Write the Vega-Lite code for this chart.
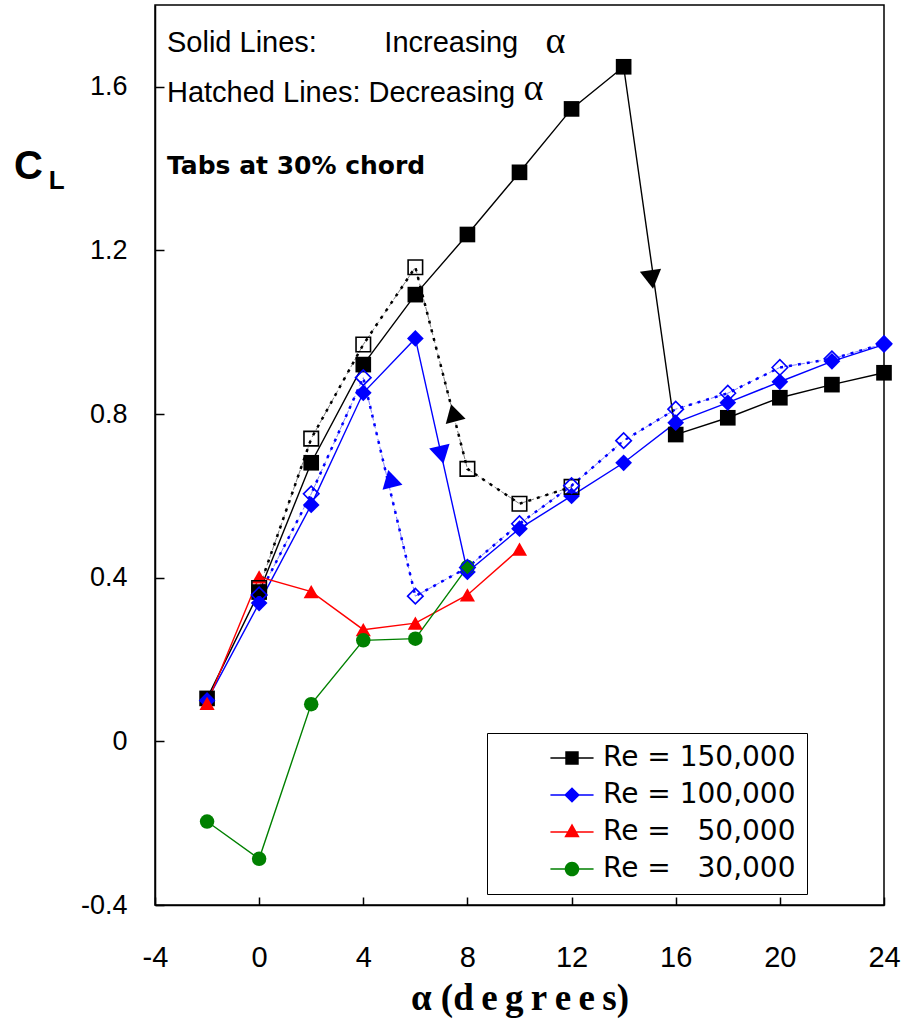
{
  "$schema": "https://vega.github.io/schema/vega-lite/v6.json",
  "width": 729,
  "height": 900,
  "autosize": {"type": "none"},
  "padding": {"left": 155, "top": 5, "right": 20, "bottom": 121},
  "background": "white",
  "config": {
    "view": {"stroke": "black", "strokeWidth": 1.5},
    "axis": {
      "grid": false,
      "domainColor": "black",
      "domainWidth": 1.5,
      "tickColor": "black",
      "tickWidth": 1.5,
      "labelColor": "black",
      "titleColor": "black",
      "labelFont": "Liberation Sans",
      "labelFlush": false,
      "labelOverlap": false,
      "labelBound": false
    }
  },
  "datasets": {
    "cl": [
      {"re": "150,000", "sweep": "increasing", "alpha": -2, "cl": 0.105},
      {"re": "150,000", "sweep": "increasing", "alpha": 0, "cl": 0.365},
      {"re": "150,000", "sweep": "increasing", "alpha": 2, "cl": 0.681},
      {"re": "150,000", "sweep": "increasing", "alpha": 4, "cl": 0.921},
      {"re": "150,000", "sweep": "increasing", "alpha": 6, "cl": 1.092},
      {"re": "150,000", "sweep": "increasing", "alpha": 8, "cl": 1.239},
      {"re": "150,000", "sweep": "increasing", "alpha": 10, "cl": 1.391},
      {"re": "150,000", "sweep": "increasing", "alpha": 12, "cl": 1.546},
      {"re": "150,000", "sweep": "increasing", "alpha": 14, "cl": 1.649},
      {"re": "150,000", "sweep": "increasing", "alpha": 16, "cl": 0.750},
      {"re": "150,000", "sweep": "increasing", "alpha": 18, "cl": 0.791},
      {"re": "150,000", "sweep": "increasing", "alpha": 20, "cl": 0.840},
      {"re": "150,000", "sweep": "increasing", "alpha": 22, "cl": 0.872},
      {"re": "150,000", "sweep": "increasing", "alpha": 24, "cl": 0.901},
      {"re": "150,000", "sweep": "decreasing", "alpha": 0, "cl": 0.375},
      {"re": "150,000", "sweep": "decreasing", "alpha": 2, "cl": 0.740},
      {"re": "150,000", "sweep": "decreasing", "alpha": 4, "cl": 0.970},
      {"re": "150,000", "sweep": "decreasing", "alpha": 6, "cl": 1.159},
      {"re": "150,000", "sweep": "decreasing", "alpha": 8, "cl": 0.666},
      {"re": "150,000", "sweep": "decreasing", "alpha": 10, "cl": 0.581},
      {"re": "150,000", "sweep": "decreasing", "alpha": 12, "cl": 0.622},
      {"re": "100,000", "sweep": "increasing", "alpha": -2, "cl": 0.100},
      {"re": "100,000", "sweep": "increasing", "alpha": 0, "cl": 0.338},
      {"re": "100,000", "sweep": "increasing", "alpha": 2, "cl": 0.578},
      {"re": "100,000", "sweep": "increasing", "alpha": 4, "cl": 0.852},
      {"re": "100,000", "sweep": "increasing", "alpha": 6, "cl": 0.985},
      {"re": "100,000", "sweep": "increasing", "alpha": 8, "cl": 0.414},
      {"re": "100,000", "sweep": "increasing", "alpha": 10, "cl": 0.520},
      {"re": "100,000", "sweep": "increasing", "alpha": 12, "cl": 0.600},
      {"re": "100,000", "sweep": "increasing", "alpha": 14, "cl": 0.681},
      {"re": "100,000", "sweep": "increasing", "alpha": 16, "cl": 0.779},
      {"re": "100,000", "sweep": "increasing", "alpha": 18, "cl": 0.828},
      {"re": "100,000", "sweep": "increasing", "alpha": 20, "cl": 0.879},
      {"re": "100,000", "sweep": "increasing", "alpha": 22, "cl": 0.929},
      {"re": "100,000", "sweep": "increasing", "alpha": 24, "cl": 0.970},
      {"re": "100,000", "sweep": "decreasing", "alpha": 0, "cl": 0.358},
      {"re": "100,000", "sweep": "decreasing", "alpha": 2, "cl": 0.605},
      {"re": "100,000", "sweep": "decreasing", "alpha": 4, "cl": 0.889},
      {"re": "100,000", "sweep": "decreasing", "alpha": 6, "cl": 0.355},
      {"re": "100,000", "sweep": "decreasing", "alpha": 8, "cl": 0.425},
      {"re": "100,000", "sweep": "decreasing", "alpha": 10, "cl": 0.532},
      {"re": "100,000", "sweep": "decreasing", "alpha": 12, "cl": 0.625},
      {"re": "100,000", "sweep": "decreasing", "alpha": 14, "cl": 0.735},
      {"re": "100,000", "sweep": "decreasing", "alpha": 16, "cl": 0.812},
      {"re": "100,000", "sweep": "decreasing", "alpha": 18, "cl": 0.851},
      {"re": "100,000", "sweep": "decreasing", "alpha": 20, "cl": 0.914},
      {"re": "100,000", "sweep": "decreasing", "alpha": 22, "cl": 0.935},
      {"re": "100,000", "sweep": "decreasing", "alpha": 24, "cl": 0.972},
      {"re": "50,000", "sweep": "increasing", "alpha": -2, "cl": 0.093},
      {"re": "50,000", "sweep": "increasing", "alpha": 0, "cl": 0.402},
      {"re": "50,000", "sweep": "increasing", "alpha": 2, "cl": 0.366},
      {"re": "50,000", "sweep": "increasing", "alpha": 4, "cl": 0.273},
      {"re": "50,000", "sweep": "increasing", "alpha": 6, "cl": 0.289},
      {"re": "50,000", "sweep": "increasing", "alpha": 8, "cl": 0.358},
      {"re": "50,000", "sweep": "increasing", "alpha": 10, "cl": 0.470},
      {"re": "30,000", "sweep": "increasing", "alpha": -2, "cl": -0.196},
      {"re": "30,000", "sweep": "increasing", "alpha": 0, "cl": -0.287},
      {"re": "30,000", "sweep": "increasing", "alpha": 2, "cl": 0.091},
      {"re": "30,000", "sweep": "increasing", "alpha": 4, "cl": 0.247},
      {"re": "30,000", "sweep": "increasing", "alpha": 6, "cl": 0.251},
      {"re": "30,000", "sweep": "increasing", "alpha": 8, "cl": 0.426}
    ],
    "arrows": [
      {"re": "150,000", "sweep": "increasing", "alpha": 15.08, "cl": 1.129},
      {"re": "100,000", "sweep": "increasing", "alpha": 7.0, "cl": 0.700},
      {"re": "150,000", "sweep": "decreasing", "alpha": 7.46, "cl": 0.803},
      {"re": "100,000", "sweep": "decreasing", "alpha": 5.04, "cl": 0.642}
    ]
  },
  "encoding": {
    "x": {
      "field": "alpha",
      "type": "quantitative",
      "scale": {"domain": [-4, 24], "nice": false, "zero": false},
      "axis": {
        "values": [-4, 0, 4, 8, 12, 16, 20, 24],
        "tickSize": -8,
        "labelPadding": 46,
        "labelFontSize": 29,
        "labelExpr": "toString(datum.value)",
        "title": "α (d\u2009e\u2009g\u2009r\u2009e\u2009e\u2009s)",
        "titleFont": "Liberation Serif",
        "titleFontSize": 37,
        "titleFontWeight": "bold",
        "titlePadding": 8
      }
    },
    "y": {
      "field": "cl",
      "type": "quantitative",
      "scale": {"domain": [-0.4, 1.8], "nice": false, "zero": false},
      "axis": {
        "values": [-0.4, 0, 0.4, 0.8, 1.2, 1.6],
        "tickSize": -9,
        "labelPadding": 37,
        "labelFontSize": 27,
        "labelExpr": "datum.value == 0 ? '0' : toString(round(datum.value * 10) / 10)",
        "title": null
      }
    }
  },
  "layer": [
    {
      "data": {"name": "cl"},
      "transform": [{"filter": "false"}],
      "mark": {"type": "point", "filled": true, "opacity": 1, "size": 784},
      "encoding": {
        "color": {
          "field": "re", "type": "nominal",
          "scale": {"domain": ["150,000", "100,000", "50,000", "30,000"], "range": ["#000000", "#0000ff", "#ff0000", "#008000"]},
          "legend": {
            "title": null, "orient": "none", "legendX": 332, "legendY": 728,
            "padding": 11, "rowPadding": 9, "symbolOffset": 60, "labelOffset": 17, "symbolSize": 784,
            "symbolStrokeWidth": 0, "symbolOpacity": 1,
            "labelFont": "DejaVu Sans", "labelFontSize": 28, "labelColor": "black", "labelLimit": 0,
            "labelExpr": "'Re = ' + (length(datum.label) < 7 ? '\u2007' : '') + datum.label",
            "strokeColor": "black", "fillColor": "white"
          }
        },
        "shape": {
          "field": "re", "type": "nominal",
          "scale": {
            "domain": ["150,000", "100,000", "50,000", "30,000"],
            "range": [
              "M-1.54,-0.05H1.54V0.05H-1.54Z M-0.48,-0.48H0.48V0.48H-0.48Z",
              "M-1.54,-0.05H1.54V0.05H-1.54Z M-0.56,0L0,-0.56L0.56,0L0,0.56Z",
              "M-1.54,-0.05H1.54V0.05H-1.54Z M0,-0.6L0.55,0.38L-0.55,0.38Z",
              "M-1.54,-0.05H1.54V0.05H-1.54Z M0.52,0A0.52,0.52,0,1,1,-0.52,0A0.52,0.52,0,1,1,0.52,0Z"
            ]
          },
          "legend": {
            "title": null, "orient": "none", "legendX": 332, "legendY": 728,
            "padding": 11, "rowPadding": 9, "symbolOffset": 60, "labelOffset": 17, "symbolSize": 784,
            "symbolStrokeWidth": 0, "symbolOpacity": 1,
            "labelFont": "DejaVu Sans", "labelFontSize": 28, "labelColor": "black", "labelLimit": 0,
            "labelExpr": "'Re = ' + (length(datum.label) < 7 ? '\u2007' : '') + datum.label",
            "strokeColor": "black", "fillColor": "white"
          }
        }
      }
    },
    {
      "data": {"name": "cl"},
      "transform": [{"filter": "datum.sweep == 'decreasing'"}],
      "mark": {"type": "line", "strokeWidth": 1, "strokeDash": [5, 3]},
      "encoding": {
        "stroke": {"field": "re", "type": "nominal", "scale": {"domain": ["150,000", "100,000"], "range": ["#7f7f7f", "#7f7fff"]}, "legend": null}
      }
    },
    {
      "data": {"name": "cl"},
      "transform": [{"filter": "datum.sweep == 'decreasing'"}],
      "mark": {"type": "line", "strokeWidth": 2.5, "strokeDash": [3, 6]},
      "encoding": {
        "color": {"field": "re", "type": "nominal", "scale": {"domain": ["150,000", "100,000", "50,000", "30,000"], "range": ["#000000", "#0000ff", "#ff0000", "#008000"]}, "legend": null}
      }
    },
    {
      "data": {"name": "cl"},
      "transform": [{"filter": "datum.sweep == 'increasing'"}],
      "mark": {"type": "line", "strokeWidth": 1.4},
      "encoding": {
        "color": {"field": "re", "type": "nominal", "scale": {"domain": ["150,000", "100,000", "50,000", "30,000"], "range": ["#000000", "#0000ff", "#ff0000", "#008000"]}, "legend": null}
      }
    },
    {
      "data": {"name": "cl"},
      "transform": [{"filter": "datum.sweep == 'increasing' && datum.re == '150,000'"}],
      "mark": {"type": "point", "shape": "square", "filled": true, "color": "#000000", "size": 245, "opacity": 1}
    },
    {
      "data": {"name": "cl"},
      "transform": [{"filter": "datum.sweep == 'increasing' && datum.re == '100,000'"}],
      "mark": {"type": "point", "shape": "diamond", "filled": true, "color": "#0000ff", "size": 280, "opacity": 1}
    },
    {
      "data": {"name": "cl"},
      "transform": [{"filter": "datum.sweep == 'increasing' && datum.re == '50,000'"}],
      "mark": {"type": "point", "shape": "triangle-up", "filled": true, "color": "#ff0000", "size": 230, "opacity": 1}
    },
    {
      "data": {"name": "cl"},
      "transform": [{"filter": "datum.sweep == 'increasing' && datum.re == '30,000'"}],
      "mark": {"type": "point", "shape": "circle", "filled": true, "color": "#008000", "size": 210, "opacity": 1}
    },
    {
      "data": {"name": "cl"},
      "transform": [{"filter": "datum.sweep == 'decreasing' && datum.re == '150,000'"}],
      "mark": {"type": "point", "shape": "square", "filled": false, "color": "#000000", "strokeWidth": 1.6, "size": 210, "opacity": 1}
    },
    {
      "data": {"name": "cl"},
      "transform": [{"filter": "datum.sweep == 'decreasing' && datum.re == '100,000'"}],
      "mark": {"type": "point", "shape": "diamond", "filled": false, "color": "#0000ff", "strokeWidth": 1.6, "size": 240, "opacity": 1}
    },
    {
      "data": {"name": "arrows"},
      "transform": [{"filter": "datum.sweep == 'increasing' && datum.re == '150,000'"}],
      "mark": {"type": "point", "shape": "triangle-down", "angle": -8, "filled": true, "color": "#000000", "size": 460, "opacity": 1}
    },
    {
      "data": {"name": "arrows"},
      "transform": [{"filter": "datum.sweep == 'increasing' && datum.re == '100,000'"}],
      "mark": {"type": "point", "shape": "triangle-down", "angle": -13, "filled": true, "color": "#0000ff", "size": 440, "opacity": 1}
    },
    {
      "data": {"name": "arrows"},
      "transform": [{"filter": "datum.sweep == 'decreasing' && datum.re == '150,000'"}],
      "mark": {"type": "point", "shape": "triangle-up", "angle": -15, "filled": true, "color": "#000000", "size": 420, "opacity": 1}
    },
    {
      "data": {"name": "arrows"},
      "transform": [{"filter": "datum.sweep == 'decreasing' && datum.re == '100,000'"}],
      "mark": {"type": "point", "shape": "triangle-up", "angle": -14, "filled": true, "color": "#0000ff", "size": 420, "opacity": 1}
    },
    {
      "data": {"values": [
        {"label": "Solid Lines:", "alpha": -3.54, "cl": 1.707},
        {"label": "Increasing", "alpha": 4.81, "cl": 1.707},
        {"label": "Hatched Lines: Decreasing", "alpha": -3.54, "cl": 1.586}
      ]},
      "mark": {"type": "text", "align": "left", "baseline": "middle", "font": "Liberation Sans", "fontSize": 29, "color": "black"},
      "encoding": {"text": {"field": "label"}}
    },
    {
      "data": {"values": [
        {"label": "α", "alpha": 11.0, "cl": 1.709},
        {"label": "α", "alpha": 10.15, "cl": 1.594}
      ]},
      "mark": {"type": "text", "align": "left", "baseline": "middle", "font": "Liberation Serif", "fontSize": 38, "color": "black"},
      "encoding": {"text": {"field": "label"}}
    },
    {
      "data": {"values": [
        {"label": "Tabs at 30% chord", "alpha": -3.54, "cl": 1.406}
      ]},
      "mark": {"type": "text", "align": "left", "baseline": "middle", "font": "DejaVu Sans", "fontWeight": "bold", "fontSize": 25, "color": "black"},
      "encoding": {"text": {"field": "label"}}
    },
    {
      "data": {"values": [
        {"label": "C", "alpha": -9.42, "cl": 1.403}
      ]},
      "mark": {"type": "text", "align": "left", "baseline": "middle", "font": "Liberation Sans", "fontWeight": "bold", "fontSize": 40, "color": "black"},
      "encoding": {"text": {"field": "label"}}
    },
    {
      "data": {"values": [
        {"label": "L", "alpha": -8.08, "cl": 1.370}
      ]},
      "mark": {"type": "text", "align": "left", "baseline": "middle", "font": "Liberation Sans", "fontWeight": "bold", "fontSize": 26, "color": "black"},
      "encoding": {"text": {"field": "label"}}
    }
  ]
}
